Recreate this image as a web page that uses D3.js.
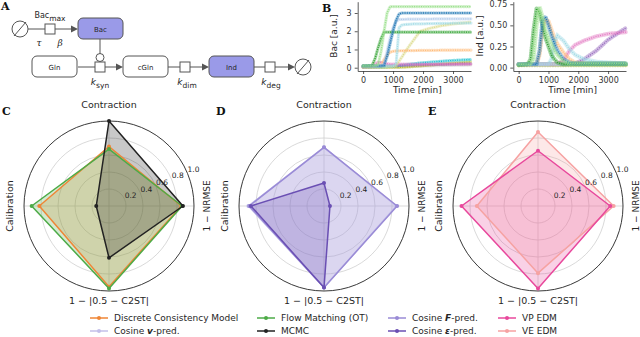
<!DOCTYPE html>
<html>
<head>
<meta charset="utf-8">
<script src="https://cdn.jsdelivr.net/npm/d3@7"></script>
<style>
	body { margin: 0; background: #fff; }
	svg { display: block; font-family: "DejaVu Sans", sans-serif; }
</style>
</head>
<body>
<svg id="fig" width="640" height="337"></svg>
<script>
// ---- panel B: time courses, values read at these times [min]
var timeGrid = [0, 300, 400, 500, 600, 700, 800, 900, 1000, 1100, 1200, 1300, 1500, 1700, 1900, 2200, 2600, 3000, 3600];
var timeTicks = [0, 1000, 2000, 3000];
var bacTicks = [0, 1, 2, 3];
var indTicks = [0, 0.25, 0.5, 0.75];
var seriesColors = ["#c7c7c7", "#bcbd22", "#17becf", "#9467bd", "#e377c2", "#dbdb8d", "#ffbb78", "#9edae5", "#aec7e8", "#2ca02c", "#1f77b4", "#98df8a"];
var bacValues = [
	[0.02, 0.02, 0.02, 0.03, 0.03, 0.03, 0.04, 0.04, 0.05, 0.05, 0.05, 0.06, 0.07, 0.08, 0.09, 0.1, 0.12, 0.13, 0.15],
	[0.02, 0.02, 0.02, 0.02, 0.02, 0.02, 0.02, 0.02, 0.02, 0.02, 0.02, 0.03, 0.04, 0.07, 0.1, 0.14, 0.2, 0.25, 0.32],
	[0.05, 0.05, 0.05, 0.05, 0.05, 0.05, 0.06, 0.07, 0.08, 0.1, 0.12, 0.14, 0.18, 0.22, 0.26, 0.3, 0.35, 0.4, 0.45],
	[0.05, 0.06, 0.08, 0.1, 0.12, 0.12, 0.12, 0.12, 0.12, 0.12, 0.12, 0.13, 0.14, 0.15, 0.16, 0.17, 0.18, 0.2, 0.22],
	[0.05, 0.08, 0.2, 0.3, 0.3, 0.26, 0.22, 0.2, 0.2, 0.2, 0.2, 0.2, 0.2, 0.2, 0.2, 0.2, 0.2, 0.2, 0.2],
	[0.05, 0.05, 0.05, 0.05, 0.05, 0.05, 0.05, 0.06, 0.07, 0.1, 0.35, 0.6, 1.1, 1.55, 2.0, 2.15, 2.3, 2.4, 2.5],
	[0.1, 0.1, 0.1, 0.12, 0.15, 0.45, 0.7, 0.85, 0.9, 0.92, 0.93, 0.93, 0.94, 0.94, 0.95, 0.95, 0.96, 0.96, 0.97],
	[0.1, 0.1, 0.1, 0.1, 0.1, 0.1, 0.1, 0.1, 0.1, 0.2, 2.2, 2.35, 2.38, 2.4, 2.4, 2.42, 2.43, 2.44, 2.45],
	[0.1, 0.1, 0.1, 0.1, 0.12, 0.2, 0.9, 1.6, 2.2, 2.55, 2.65, 2.65, 2.66, 2.66, 2.67, 2.67, 2.68, 2.68, 2.68],
	[0.1, 0.12, 0.5, 1.1, 1.6, 1.95, 1.95, 1.95, 1.95, 1.95, 1.95, 1.95, 1.95, 1.95, 1.95, 1.95, 1.95, 1.95, 1.95],
	[0.1, 0.1, 0.1, 0.1, 0.1, 0.12, 0.6, 1.3, 2.0, 2.6, 2.95, 3.0, 3.0, 3.0, 3.0, 3.0, 3.0, 3.0, 3.0],
	[0.1, 0.1, 0.12, 0.15, 0.9, 2.0, 3.0, 3.35, 3.35, 3.35, 3.35, 3.35, 3.35, 3.35, 3.35, 3.35, 3.35, 3.35, 3.35]
];
var indValues = [
	[0.04, 0.04, 0.04, 0.04, 0.04, 0.04, 0.04, 0.04, 0.04, 0.04, 0.04, 0.04, 0.04, 0.04, 0.04, 0.04, 0.04, 0.04, 0.04],
	[0.03, 0.03, 0.03, 0.03, 0.03, 0.03, 0.03, 0.03, 0.03, 0.03, 0.03, 0.03, 0.03, 0.03, 0.03, 0.03, 0.03, 0.03, 0.03],
	[0.04, 0.04, 0.04, 0.04, 0.04, 0.04, 0.04, 0.04, 0.04, 0.04, 0.04, 0.04, 0.04, 0.04, 0.04, 0.04, 0.04, 0.04, 0.04],
	[0.04, 0.04, 0.04, 0.04, 0.04, 0.04, 0.04, 0.04, 0.04, 0.04, 0.04, 0.04, 0.04, 0.04, 0.05, 0.1, 0.2, 0.33, 0.47],
	[0.04, 0.04, 0.04, 0.04, 0.04, 0.04, 0.04, 0.04, 0.04, 0.04, 0.04, 0.05, 0.08, 0.2, 0.27, 0.32, 0.37, 0.4, 0.42],
	[0.04, 0.04, 0.04, 0.04, 0.04, 0.04, 0.04, 0.04, 0.04, 0.04, 0.04, 0.04, 0.04, 0.04, 0.04, 0.04, 0.04, 0.04, 0.04],
	[0.04, 0.04, 0.04, 0.04, 0.04, 0.15, 0.45, 0.57, 0.55, 0.45, 0.35, 0.28, 0.18, 0.1, 0.06, 0.05, 0.05, 0.05, 0.05],
	[0.04, 0.04, 0.04, 0.04, 0.04, 0.04, 0.04, 0.04, 0.04, 0.1, 0.3, 0.38, 0.32, 0.22, 0.15, 0.1, 0.07, 0.06, 0.05],
	[0.04, 0.04, 0.04, 0.04, 0.04, 0.04, 0.04, 0.04, 0.04, 0.04, 0.04, 0.04, 0.04, 0.04, 0.04, 0.04, 0.04, 0.04, 0.04],
	[0.03, 0.04, 0.1, 0.45, 0.7, 0.65, 0.5, 0.35, 0.25, 0.15, 0.1, 0.06, 0.04, 0.04, 0.04, 0.04, 0.04, 0.04, 0.04],
	[0.04, 0.04, 0.04, 0.04, 0.04, 0.2, 0.55, 0.6, 0.5, 0.38, 0.28, 0.2, 0.1, 0.06, 0.05, 0.05, 0.05, 0.05, 0.05],
	[0.04, 0.04, 0.04, 0.1, 0.5, 0.72, 0.6, 0.45, 0.35, 0.28, 0.2, 0.15, 0.08, 0.05, 0.05, 0.05, 0.05, 0.05, 0.05]
];

// ---- panels C-E: radar scores, axes clockwise from the top
var radarAxes = ["Contraction", "1 − NRMSE", "1 − |0.5 − C2ST|", "Calibration"];
var radarTicks = [0.2, 0.4, 0.6, 0.8, 1.0];
var modelNames = ["Discrete Consistency Model", "Cosine v-pred.", "Flow Matching (OT)", "MCMC", "Cosine F-pred.", "Cosine ε-pred.", "VP EDM", "VE EDM"];
var modelColors = ["#ef8636", "#c3bfe9", "#4dab47", "#222222", "#9a8bd6", "#6a4fb3", "#e8489c", "#f6a2a2"];
var scoresDCM = [0.70, 0.85, 0.95, 0.82];
var scoresCosV = [0.69, 0.85, 0.96, 0.89];
var scoresFlow = [0.67, 0.86, 0.97, 0.91];
var scoresMCMC = [1.0, 0.87, 0.61, 0.15];
var scoresCosF = [0.69, 0.86, 0.96, 0.88];
var scoresCosEps = [0.27, 0.07, 0.96, 0.86];
var scoresVP = [0.65, 0.85, 0.97, 0.90];
var scoresVE = [0.87, 0.89, 0.79, 0.72];

(function(){
	'use strict';

	var svg = d3.select('#fig');
	var ink = '#262626';
	var R = 85;

	drawLetter('A', 1, 10);
	drawLetter('B', 322, 12);
	drawLetter('C', 2, 115);
	drawLetter('D', 216, 115);
	drawLetter('E', 428, 115);

	drawNetwork();
	drawSeries(bacValues, [357.7, 471], [-0.18, 3.62], bacTicks, d3.format('d'), 'Bac [a.u.]', 337, 3.2);
	drawSeries(indValues, [513.3, 626], [-0.04, 0.78], indTicks, d3.format('.2f'), 'Ind [a.u.]', 483, 4.2);

	drawRadar(109, 206, [[scoresDCM, 0], [scoresFlow, 2], [scoresMCMC, 3]]);
	drawRadar(324, 206, [[scoresCosV, 1], [scoresCosF, 4], [scoresCosEps, 5]]);
	drawRadar(538, 206, [[scoresVE, 7], [scoresVP, 6]]);
	drawLegend();

	function drawLetter(t, x, y){
		svg.append('text').text(t)
			.attr('x', x).attr('y', y)
			.attr('font-family', '"DejaVu Serif", "Liberation Serif", serif')
			.attr('font-weight', 'bold')
			.attr('font-size', '11px')
			.attr('fill', '#111');
	}

	function drawNetwork(){
		var g = svg.append('g');
		var stroke = '#555';
		var segs = [[28, 29, 45, 29], [55, 29, 72, 29], [100, 39, 100, 54], [78, 67, 95, 67], [105, 67, 117, 67],
			[168, 67, 180, 67], [190, 67, 203, 67], [254, 67, 265, 67], [275, 67, 289, 67]];
		segs.forEach(function(s){
			g.append('line').attr('x1', s[0]).attr('y1', s[1]).attr('x2', s[2]).attr('y2', s[3])
				.attr('stroke', stroke).attr('stroke-width', 1);
		});
		[[78, 29], [123, 67], [209, 67], [295, 67]].forEach(function(p){
			g.append('path')
				.attr('d', 'M' + p[0] + ',' + p[1] + 'l-7,-3.5v7z')
				.attr('fill', stroke);
		});
		[[20, 29], [303, 67]].forEach(function(p){
			g.append('circle').attr('cx', p[0]).attr('cy', p[1]).attr('r', 8)
				.attr('fill', 'none').attr('stroke', stroke);
			g.append('line').attr('x1', p[0] - 6).attr('y1', p[1] + 7).attr('x2', p[0] + 6).attr('y2', p[1] - 7)
				.attr('stroke', stroke);
		});
		g.append('circle').attr('cx', 100).attr('cy', 57.5).attr('r', 4)
			.attr('fill', '#fff').attr('stroke', stroke);
		[[50, 29], [100, 67], [185, 67], [270, 67]].forEach(function(p){
			g.append('rect').attr('x', p[0] - 5).attr('y', p[1] - 5).attr('width', 10).attr('height', 10)
				.attr('fill', '#fff').attr('stroke', stroke);
		});
		var boxes = [['Bac', 78, 18, true], ['Gln', 32, 56, false], ['cGln', 123, 56, false], ['Ind', 209, 56, true]];
		boxes.forEach(function(b){
			g.append('rect').attr('x', b[1]).attr('y', b[2]).attr('width', 45).attr('height', 21).attr('rx', 5)
				.attr('fill', b[3] ? '#9a9ae8' : '#fff').attr('stroke', stroke);
			g.append('text').text(b[0]).attr('x', b[1] + 22.5).attr('y', b[2] + 13.5)
				.attr('text-anchor', 'middle').attr('font-size', '7px').attr('fill', ink);
		});
		var bm = g.append('text').attr('x', 50).attr('y', 18).attr('text-anchor', 'middle')
			.attr('font-size', '8px').attr('fill', ink);
		bm.append('tspan').text('Bac');
		bm.append('tspan').text('max').attr('dy', 2.5).attr('font-size', '7.5px');
		[['τ', 39], ['β', 60]].forEach(function(s){
			g.append('text').text(s[0]).attr('x', s[1]).attr('y', 46).attr('text-anchor', 'middle')
				.attr('font-family', '"DejaVu Serif", serif').attr('font-style', 'italic')
				.attr('font-size', '9px').attr('fill', ink);
		});
		[['syn', 100], ['dim', 187], ['deg', 271]].forEach(function(s){
			var t = g.append('text').attr('x', s[1]).attr('y', 85).attr('text-anchor', 'middle')
				.attr('font-size', '9px').attr('fill', ink);
			t.append('tspan').text('k').attr('font-style', 'italic');
			t.append('tspan').text(s[0]).attr('dy', 2.5).attr('font-size', '7.5px');
		});
	}

	function drawSeries(values, xRange, yDomain, yTicks, fmt, label, labelX, band){
		var x = d3.scaleLinear().domain([-180, 3600]).range(xRange);
		var y = d3.scaleLinear().domain(yDomain).range([71, 1.7]);
		var g = svg.append('g');
		var line = d3.line()
			.x(function(d, i){ return x(timeGrid[i]); })
			.y(function(d){ return y(d); });

		values.forEach(function(v, k){
			g.append('path').attr('d', line(v))
				.attr('fill', 'none').attr('stroke', seriesColors[k])
				.attr('stroke-width', band).attr('stroke-opacity', 0.45)
				.attr('stroke-dasharray', '0.9 1.7').attr('stroke-linecap', 'round');
			g.append('path').attr('d', line(v))
				.attr('fill', 'none').attr('stroke', seriesColors[k])
				.attr('stroke-width', 1.3)
				.attr('stroke-dasharray', '1 1.3');
		});

		var ax = g.append('g').attr('transform', 'translate(0,71)')
			.call(d3.axisBottom(x).tickValues(timeTicks).tickFormat(d3.format('d')).tickSize(3).tickSizeOuter(0));
		var ay = g.append('g').attr('transform', 'translate(' + xRange[0] + ',0)')
			.call(d3.axisLeft(y).tickValues(yTicks).tickFormat(fmt).tickSize(3).tickSizeOuter(0));
		[ax, ay].forEach(function(a){
			a.selectAll('text').attr('font-size', '8px').attr('fill', '#333').attr('font-family', '"DejaVu Sans", sans-serif');
			a.selectAll('line, path').attr('stroke', '#333').attr('stroke-width', 0.8);
		});
		g.append('text').text('Time [min]')
			.attr('x', (xRange[0] + xRange[1]) / 2 + 3).attr('y', 93)
			.attr('text-anchor', 'middle').attr('font-size', '9px').attr('fill', ink);
		g.append('text').text(label)
			.attr('transform', 'translate(' + labelX + ',36) rotate(-90)')
			.attr('text-anchor', 'middle').attr('font-size', '9px').attr('fill', ink);
	}

	function drawRadar(cx, cy, models){
		var g = svg.append('g').attr('transform', 'translate(' + cx + ',' + cy + ')');
		var r = d3.scaleLinear().domain([0, 1]).range([0, R]);
		var angle = function(i){ return i * Math.PI / 2; };

		radarTicks.slice(0, -1).forEach(function(t){
			g.append('circle').attr('r', r(t)).attr('fill', 'none')
				.attr('stroke', '#cfcfcf').attr('stroke-width', 0.8);
		});
		radarAxes.forEach(function(a, i){
			g.append('line')
				.attr('x2', r(1) * Math.sin(angle(i))).attr('y2', -r(1) * Math.cos(angle(i)))
				.attr('stroke', '#cfcfcf').attr('stroke-width', 0.8);
		});
		g.append('circle').attr('r', r(1)).attr('fill', 'none')
			.attr('stroke', '#222').attr('stroke-width', 0.9);

		var shape = d3.lineRadial()
			.angle(function(d, i){ return angle(i); })
			.radius(function(d){ return r(d); })
			.curve(d3.curveLinearClosed);

		models.forEach(function(m){
			g.append('path').attr('d', shape(m[0]))
				.attr('fill', modelColors[m[1]]).attr('fill-opacity', 0.25).attr('stroke', 'none');
		});
		models.forEach(function(m){
			var c = modelColors[m[1]];
			g.append('path').attr('d', shape(m[0]))
				.attr('fill', 'none').attr('stroke', c).attr('stroke-width', 1.5)
				.attr('stroke-linejoin', 'round');
			m[0].forEach(function(v, i){
				g.append('circle')
					.attr('cx', r(v) * Math.sin(angle(i))).attr('cy', -r(v) * Math.cos(angle(i)))
					.attr('r', 2).attr('fill', c);
			});
		});

		var ta = 3 * Math.PI / 8;
		radarTicks.forEach(function(t){
			g.append('text').text(d3.format('.1f')(t))
				.attr('x', r(t) * Math.sin(ta)).attr('y', -r(t) * Math.cos(ta) - 1.5)
				.attr('font-size', '7.5px').attr('fill', ink);
		});

		g.append('text').text(radarAxes[0]).attr('y', -98).attr('text-anchor', 'middle')
			.attr('font-size', '9.5px').attr('fill', ink);
		g.append('text').text(radarAxes[1]).attr('transform', 'translate(100.5,0) rotate(-90)')
			.attr('text-anchor', 'middle').attr('font-size', '9px').attr('fill', ink);
		g.append('text').text(radarAxes[2]).attr('y', 97.5).attr('text-anchor', 'middle')
			.attr('font-size', '9.5px').attr('fill', ink);
		g.append('text').text(radarAxes[3]).attr('transform', 'translate(-96,0) rotate(-90)')
			.attr('text-anchor', 'middle').attr('font-size', '9.5px').attr('fill', ink);
	}

	function drawLegend(){
		var colX = [90, 257, 388, 498];
		var rowY = [318, 331];
		var bold = { 'Cosine v-pred.': 'v', 'Cosine F-pred.': 'F', 'Cosine ε-pred.': 'ε' };
		modelNames.forEach(function(name, k){
			var x0 = colX[Math.floor(k / 2)], y0 = rowY[k % 2];
			var c = modelColors[k];
			svg.append('line').attr('x1', x0).attr('x2', x0 + 18).attr('y1', y0).attr('y2', y0)
				.attr('stroke', c).attr('stroke-width', 1.5);
			svg.append('circle').attr('cx', x0 + 9).attr('cy', y0).attr('r', 2).attr('fill', c);
			var t = svg.append('text').attr('x', x0 + 24).attr('y', y0 + 3.3)
				.attr('font-size', '9px').attr('fill', ink);
			if (bold[name]) {
				var parts = name.split(bold[name]);
				t.append('tspan').text(parts[0]);
				t.append('tspan').text(bold[name]).attr('font-weight', 'bold').attr('font-style', 'italic');
				t.append('tspan').text(parts[1]);
			} else {
				t.text(name);
			}
		});
	}

})();
</script>
</body>
</html>
